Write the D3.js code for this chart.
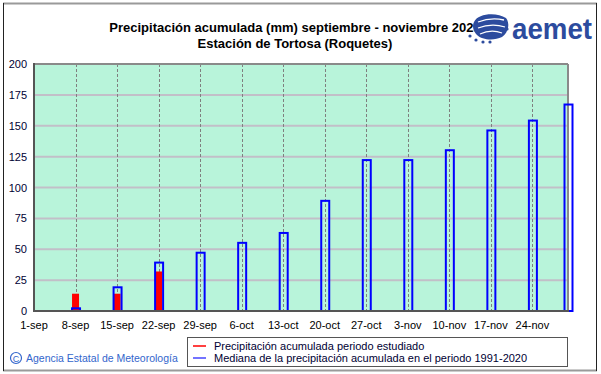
<!DOCTYPE html>
<html><head><meta charset="utf-8">
<script src="https://cdn.jsdelivr.net/npm/d3@7"></script>
<style>
html,body{margin:0;padding:0;background:#fff;}
svg{display:block;font-family:Arial,"Liberation Sans",sans-serif;}
</style></head>
<body>
<svg id="c" width="601" height="374"></svg>
<script>
// ---- data ----
const tickLabels = ["1-sep","8-sep","15-sep","22-sep","29-sep","6-oct","13-oct","20-oct","27-oct","3-nov","10-nov","17-nov","24-nov"];
const tickDays   = [0,7,14,21,28,35,42,49,56,63,70,77,84];
const barDays    = [7,14,21,28,35,42,49,56,63,70,77,84,90];
const medianValues   = [3,20,40,48,56,64,90,123,123,131,147,155,168];
const observedValues = [14,14,32,null,null,null,null,null,null,null,null,null,null];
const yTicks = [0,25,50,75,100,125,150,175,200];
const titleLines = ["Precipitación acumulada (mm) septiembre - noviembre 2025","Estación de Tortosa (Roquetes)"];
const legendItems = [
  {label:"Precipitación acumulada periodo estudiado", color:"#ff0000"},
  {label:"Mediana de la precipitación acumulada en el periodo 1991-2020", color:"#4444ff"}
];

const svg = d3.select("#c");
const L=34, R=568, T=64, B=311;
const x = d3.scaleLinear().domain([0,90]).range([L,R]);
const y = d3.scaleLinear().domain([0,200]).range([B,T]);

// outer frame
svg.append("line").attr("x1",3).attr("x2",597).attr("y1",3.5).attr("y2",3.5).attr("stroke","#9a9a9a").attr("stroke-width",2);
svg.append("line").attr("x1",3).attr("x2",597).attr("y1",370.5).attr("y2",370.5).attr("stroke","#9a9a9a").attr("stroke-width",2);
svg.append("line").attr("x1",3.5).attr("x2",3.5).attr("y1",3).attr("y2",371).attr("stroke","#222").attr("stroke-width",1);
svg.append("line").attr("x1",596.5).attr("x2",596.5).attr("y1",3).attr("y2",371).attr("stroke","#222").attr("stroke-width",1);

// title
svg.selectAll("text.title").data(titleLines).join("text").attr("class","title")
  .attr("x",295).attr("y",(d,i)=>32+i*16).attr("text-anchor","middle")
  .attr("font-size",13).attr("font-weight","bold").attr("fill","#000").text(d=>d);

// plot background
svg.append("rect").attr("x",L).attr("y",T).attr("width",R-L).attr("height",B-T).attr("fill","#b8f4da");

// horizontal grid
svg.append("g").selectAll("line").data(yTicks.filter(v=>v>0&&v<200)).join("line")
  .attr("x1",L).attr("x2",R).attr("y1",d=>y(d)).attr("y2",d=>y(d))
  .attr("stroke","#c2bfc8").attr("stroke-width",2);
// vertical dashed grid
svg.append("g").selectAll("line").data(tickDays.slice(1)).join("line")
  .attr("x1",d=>Math.round(x(d))+0.5).attr("x2",d=>Math.round(x(d))+0.5).attr("y1",T).attr("y2",B)
  .attr("stroke","#7f7f7f").attr("stroke-width",1).attr("stroke-dasharray","3,2");

// plot border
svg.append("line").attr("x1",L).attr("x2",R).attr("y1",T).attr("y2",T).attr("stroke","#8a8a8a").attr("stroke-width",2);
svg.append("line").attr("x1",R).attr("x2",R).attr("y1",T).attr("y2",B).attr("stroke","#8a8a8a").attr("stroke-width",2);

// observed bars (red)
const bars = barDays.map((d,i)=>({day:d, med:medianValues[i], obs:observedValues[i]}));
svg.append("g").selectAll("rect").data(bars.filter(d=>d.obs!=null)).join("rect")
  .attr("x",d=>x(d.day)-3.5).attr("width",7)
  .attr("y",d=>y(d.obs)).attr("height",d=>B-y(d.obs)).attr("fill","#ff0000");
// median bars (blue outline)
svg.append("g").selectAll("rect").data(bars).join("rect")
  .attr("x",d=>x(d.day)-3.5).attr("width",8)
  .attr("y",d=>y(d.med)+1).attr("height",d=>Math.max(B-y(d.med)-1,1))
  .attr("fill","none").attr("stroke","#0000ff").attr("stroke-width",2);

// axes lines
svg.append("line").attr("x1",L).attr("x2",L).attr("y1",T-1).attr("y2",B+1).attr("stroke","#555").attr("stroke-width",2);
svg.append("line").attr("x1",L-1).attr("x2",R+1).attr("y1",B).attr("y2",B).attr("stroke","#555").attr("stroke-width",2);

// y labels
svg.append("g").selectAll("text").data(yTicks).join("text")
  .attr("x",27).attr("y",d=>y(d)+4).attr("text-anchor","end")
  .attr("font-size",11).attr("fill","#000033").text(d=>d);
// x labels
svg.append("g").selectAll("text").data(tickDays).join("text")
  .attr("x",d=>x(d)).attr("y",329).attr("text-anchor","middle")
  .attr("font-size",11).attr("fill","#000").text((d,i)=>tickLabels[i]);

// legend
const lg = svg.append("g");
lg.append("rect").attr("x",187.5).attr("y",337.5).attr("width",380).attr("height",29)
  .attr("fill","#fff").attr("stroke","#555").attr("stroke-width",1);
legendItems.forEach((it,i)=>{
  const yy = 346+i*12;
  lg.append("line").attr("x1",193).attr("x2",206).attr("y1",yy).attr("y2",yy).attr("stroke",it.color).attr("stroke-width",1.5);
  lg.append("text").attr("x",214).attr("y",yy+4).attr("font-size",11).attr("fill","#000033").text(it.label);
});

// copyright
svg.append("circle").attr("cx",16).attr("cy",358).attr("r",5.5).attr("fill","none").attr("stroke","#3366cc").attr("stroke-width",1.2);
svg.append("text").attr("x",16).attr("y",361.5).attr("text-anchor","middle").attr("font-size",9).attr("fill","#3366cc").text("C");
svg.append("text").attr("x",26).attr("y",362).attr("font-size",10.5).attr("fill","#3366cc").text("Agencia Estatal de Meteorología");

// logo
const lo = svg.append("g");
lo.append("path").attr("d","M474,22 C478,13 497,12 506,18 C510,23 509,32 502,37 C494,41 482,40 477,35 C473,31 472,26 474,22 Z").attr("fill","#2c4b9e");
[[478,22,504,20],[478,28,505,27],[480,34,502,33]].forEach(p=>{
  lo.append("path").attr("d",`M${p[0]},${p[1]} Q${(p[0]+p[2])/2},${p[1]-5} ${p[2]},${p[3]}`).attr("fill","none").attr("stroke","#fff").attr("stroke-width",1.3);
});
[[470,36],[476,40],[483,42],[490,42],[507,29]].forEach(p=>lo.append("circle").attr("cx",p[0]).attr("cy",p[1]).attr("r",1.6).attr("fill","#2c4b9e"));
lo.append("text").attr("x",512).attr("y",39).attr("font-size",30).attr("font-weight","bold")
  .attr("fill","#2c4b9e").attr("textLength",80).attr("lengthAdjust","spacingAndGlyphs").text("aemet");
</script>
</body></html>
